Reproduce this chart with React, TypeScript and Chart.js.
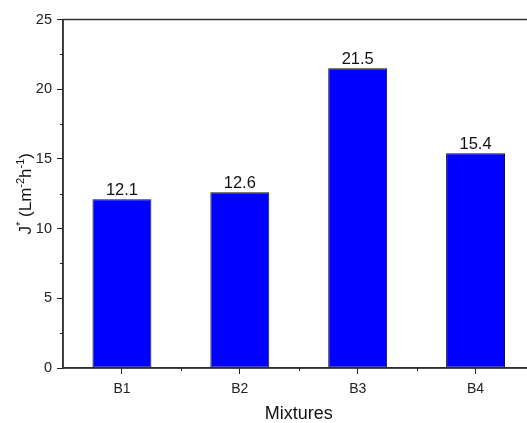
import React, { useEffect, useRef } from "react";
import { Chart, registerables } from "chart.js";

Chart.register(...registerables);

const categories = ["B1", "B2", "B3", "B4"];
const fluxValues = [12.1, 12.6, 21.5, 15.4];
const yTicks = [0, 5, 10, 15, 20, 25];
const yMinorTicks = [2.5, 7.5, 12.5, 17.5, 22.5];
const xTitle = "Mixtures";

const FONT = "'Liberation Sans', Arial, sans-serif";

const decorPlugin = {
  id: "decor",
  afterDraw(chart: any) {
    const ctx = chart.ctx;
    const { left, right, top, bottom } = chart.chartArea;
    const xs = chart.scales.x;
    const ys = chart.scales.y;
    ctx.save();
    // frame
    ctx.strokeStyle = "#333";
    ctx.lineWidth = 1.5;
    ctx.strokeRect(left, top, right - left, bottom - top);
    // minor ticks y
    ctx.strokeStyle = "#222";
    ctx.lineWidth = 1;
    ctx.beginPath();
    yMinorTicks.forEach((v) => {
      const y = Math.round(ys.getPixelForValue(v)) + 0.5;
      ctx.moveTo(left, y);
      ctx.lineTo(left - 3, y);
    });
    // minor ticks x at category boundaries
    for (let i = 0; i < categories.length - 1; i++) {
      const x = (xs.getPixelForValue(i) + xs.getPixelForValue(i + 1)) / 2;
      const px = Math.round(x) + 0.5;
      ctx.moveTo(px, bottom);
      ctx.lineTo(px, bottom + 3);
    }
    ctx.stroke();
    // value labels
    ctx.fillStyle = "#111";
    ctx.font = `16.5px ${FONT}`;
    ctx.textAlign = "center";
    ctx.textBaseline = "alphabetic";
    const meta = chart.getDatasetMeta(0);
    meta.data.forEach((bar: any, i: number) => {
      ctx.fillText(fluxValues[i].toFixed(1), bar.x, bar.y - 4);
    });
    // x title
    ctx.font = `18px ${FONT}`;
    ctx.textBaseline = "middle";
    ctx.fillText(xTitle, (left + right) / 2, 414);
    // y title with superscripts
    const cy = (top + bottom) / 2;
    ctx.translate(31, cy);
    ctx.rotate(-Math.PI / 2);
    ctx.textAlign = "left";
    ctx.textBaseline = "alphabetic";
    const parts: [string, boolean][] = [
      ["J", false],
      ["*", true],
      [" (Lm", false],
      ["-2", true],
      ["h", false],
      ["-1", true],
      [")", false],
    ];
    const big = `17px ${FONT}`;
    const small = `11px ${FONT}`;
    let total = 0;
    parts.forEach(([t, sup]) => {
      ctx.font = sup ? small : big;
      total += ctx.measureText(t).width;
    });
    let x = -total / 2;
    parts.forEach(([t, sup]) => {
      ctx.font = sup ? small : big;
      ctx.fillText(t, x, sup ? -7 : 0);
      x += ctx.measureText(t).width;
    });
    ctx.restore();
  },
};

export default function App() {
  const ref = useRef<HTMLCanvasElement>(null);
  useEffect(() => {
    if (!ref.current) return;
    const chart = new Chart(ref.current, {
      type: "bar",
      data: {
        labels: categories,
        datasets: [
          {
            data: fluxValues,
            backgroundColor: "#0000FF",
            borderColor: "#111",
            borderWidth: 1,
            borderSkipped: false,
            barPercentage: 0.5,
            categoryPercentage: 1,
          },
        ],
      },
      options: {
        responsive: false,
        animation: false,
        devicePixelRatio: 1,
        layout: { padding: { top: 19.5, right: 10.5, left: 0, bottom: 0 } },
        plugins: { legend: { display: false }, tooltip: { enabled: false } },
        scales: {
          x: {
            type: "category",
            grid: {
              display: true,
              drawOnChartArea: false,
              offset: false,
              tickLength: 6,
              color: "#222",
              lineWidth: 1,
            },
            border: { display: true, color: "#222", width: 1.5 },
            ticks: { font: { size: 14, family: FONT }, color: "#222", padding: 7 },
            afterFit: (s: any) => {
              s.height = 55;
            },
          },
          y: {
            min: 0,
            max: 25,
            afterBuildTicks: (s: any) => {
              s.ticks = yTicks.map((v) => ({ value: v }));
            },
            grid: {
              display: true,
              drawOnChartArea: false,
              tickLength: 6,
              color: "#222",
              lineWidth: 1,
            },
            border: { display: true, color: "#222", width: 1.5 },
            ticks: { font: { size: 14.5, family: FONT }, color: "#222", padding: 5 },
            afterFit: (s: any) => {
              s.width = 63;
            },
          },
        },
      },
      plugins: [decorPlugin],
    });
    return () => chart.destroy();
  }, []);
  return (
    <div
      style={{
        position: "fixed",
        left: 0,
        top: 0,
        width: 527,
        height: 423,
        overflow: "hidden",
        background: "#fff",
      }}
    >
      <canvas ref={ref} width={545} height={423} style={{ display: "block" }} />
    </div>
  );
}
